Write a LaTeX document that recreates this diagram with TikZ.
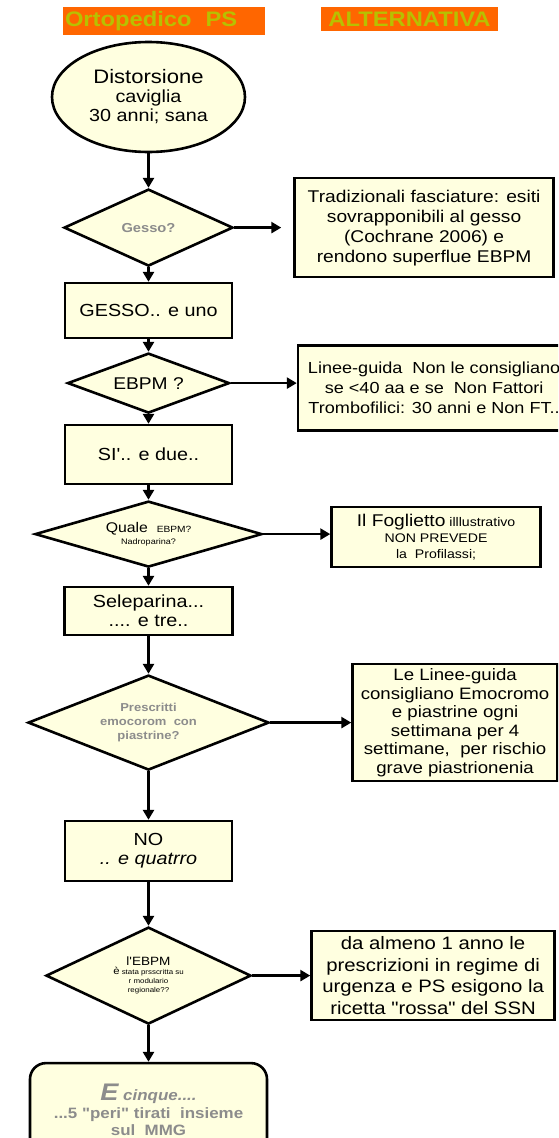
\documentclass[tikz,border=0pt]{standalone}
\usepackage{fontspec}
\setmainfont{Liberation Sans}[FakeStretch=1.13, Ligatures=TeXOff]
\usepackage{xcolor}
\usepackage{tikz}
\usetikzlibrary{shapes.geometric,arrows.meta,positioning}
\definecolor{cream}{HTML}{FFFFE0}
\definecolor{hdrorange}{HTML}{FF6600}
\definecolor{hdrtext}{HTML}{B8C000}
\definecolor{greytext}{HTML}{8C8C8C}
\newcommand{\fsz}[2]{\fontsize{#1}{#2}\selectfont}

\begin{document}
\begin{tikzpicture}[
    x=1pt, y=1pt,
    header/.style={rectangle, fill=hdrorange, text=hdrtext, inner sep=0pt,
                   font=\bfseries\fsz{21}{24}},
    startnode/.style={ellipse, draw=black, line width=2.6pt, fill=cream,
                      align=center, inner sep=0pt, font=\fsz{17.5}{19}},
    flowbox/.style={rectangle, draw=black, line width=2.6pt, fill=cream,
                    align=center, inner sep=2pt, font=\fsz{17.5}{20}},
    decision/.style={diamond, draw=black, line width=2.6pt, fill=cream,
                     align=center, aspect=2.5, inner sep=0pt},
    notebox/.style={rectangle, draw=black, line width=2.6pt, fill=cream,
                    align=center, inner sep=2pt},
    flow/.style={-{Triangle[width=11pt,length=10pt]}, line width=2.6pt},
]
\useasboundingbox (0,0) rectangle (558,-1138);
\clip (0,0) rectangle (558,-1138);

\node[header, minimum width=202, minimum height=28, text width=198, align=left] (hdrps) at (164,-21) {Ortopedico~~PS};
\node[header, minimum width=177, minimum height=24] (hdralt) at (409.5,-19) {ALTERNATIVA};

\node[startnode, minimum width=193, minimum height=110] (start) at (148.5,-97)
    {{\fsz{19.5}{21}Distorsione}\\caviglia\\30 anni; sana};

\node[decision, below=34.5pt of start, minimum width=169, minimum height=77,
      font=\bfseries\fsz{13}{15}, text=greytext] (gesso) {Gesso?};
\node[flowbox, below=14.4pt of gesso, minimum width=167, minimum height=55] (gessobox) {GESSO.. e uno};
\node[decision, below=12.4pt of gessobox, minimum width=162, minimum height=60,
      font=\fsz{17}{19}] (ebpm) {EBPM ?};
\node[flowbox, below=9.4pt of ebpm, minimum width=167, minimum height=59] (si) {SI'.. e due..};
\node[decision, below=14.4pt of si, minimum width=227, minimum height=66,
      font=\fsz{14}{12}] (quale) {Quale~~{\fsz{9}{10}EBPM?}\\{\fsz{8}{9}Nadroparina?}};
\node[flowbox, below=17.4pt of quale, minimum width=168, minimum height=48,
      font=\fsz{17.5}{19}] (sele) {Seleparina...\\.... e tre..};
\node[decision, below=37.4pt of sele, minimum width=241, minimum height=95,
      font=\bfseries\fsz{11.5}{14}, text=greytext] (prescr) {Prescritti\\emocorom~~con\\piastrine?};
\node[flowbox, below=48.4pt of prescr, minimum width=167, minimum height=60,
      font=\fsz{17.5}{19}] (no) {NO\\\textit{.. e quatrro}};
\node[decision, below=43.4pt of no, minimum width=205, minimum height=97,
      font=\fsz{7}{9}] (lebpm)
    {{\fsz{12}{15}l'EBPM}\\{\fsz{10}{11}è} stata prsscritta su\\r modulario\\regionale??};
\node[flowbox, below=36.4pt of lebpm, minimum width=237, minimum height=94, rounded corners=16pt,
      font=\bfseries\fsz{15}{17.5}, text=greytext] (cinque)
    {{\itshape\fsz{24}{22}E}{\itshape\fsz{15}{17.5} cinque....}\\...5 "peri" tirati~~insieme\\sul~~MMG};

\node[notebox, right=59pt of gesso, minimum width=259, minimum height=99, font=\fsz{17}{20}] (trad)
    {Tradizionali fasciature: esiti\\sovrapponibili al gesso\\(Cochrane 2006) e\\rendono superflue EBPM};
\node[notebox, right=66pt of ebpm, yshift=-5pt, minimum width=272, minimum height=85, font=\fsz{16}{20}] (linee)
    {Linee-guida~~Non le consigliano\\se <40 aa e se~~Non Fattori\\Trombofilici: 30 anni e Non FT..};
\node[notebox, right=67pt of quale, yshift=-3pt, minimum width=209, minimum height=60, font=\fsz{12.5}{16}] (fogl)
    {{\fsz{17}{18}Il Foglietto} illlustrativo\\NON PREVEDE\\la~~Profilassi;};
\node[notebox, right=81pt of prescr, minimum width=205, minimum height=117, font=\fsz{16.5}{18.5}] (emo)
    {Le Linee-guida\\consigliano Emocromo\\e piastrine ogni\\settimana per 4\\settimane,~~per rischio\\grave piastrionenia};
\node[notebox, right=58pt of lebpm, minimum width=243, minimum height=89, font=\fsz{18}{21.5}] (ricetta)
    {da almeno 1 anno le\\prescrizioni in regime di\\urgenza e PS esigono la\\ricetta "rossa" del SSN};

% colonna principale
\draw[flow] (start) -- (gesso);
\draw[flow] (gesso) -- (gessobox);
\draw[flow] (gessobox) -- (ebpm);
\draw[flow] (ebpm) -- (si);
\draw[flow] (si) -- (quale);
\draw[flow] (quale) -- (sele);
\draw[flow] (sele) -- (prescr);
\draw[flow] (prescr) -- (no);
\draw[flow] (no) -- (lebpm);
\draw[flow] (lebpm) -- (cinque);

% alternative
\draw[flow, shorten >=12pt] (gesso) -- (trad);
\draw[flow] (ebpm.east) -- (ebpm.east -| linee.west);
\draw[flow] (quale.east) -- (quale.east -| fogl.west);
\draw[flow] (prescr) -- (emo);
\draw[flow] (lebpm) -- (ricetta);

\end{tikzpicture}
\end{document}
